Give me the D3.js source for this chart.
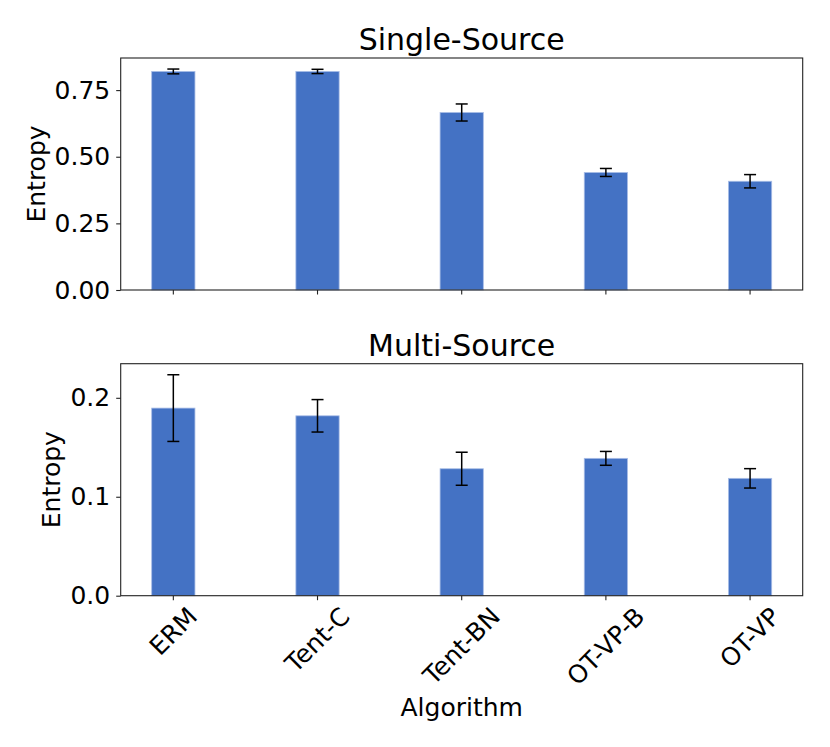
<!DOCTYPE html>
<html>
<head>
<meta charset="utf-8">
<script src="https://cdn.jsdelivr.net/npm/d3@7"></script>
<style>
  body { margin: 0; background: #fff; }
  text { font-family: "DejaVu Sans", sans-serif; fill: #000; }
</style>
</head>
<body>
<svg id="chart" width="830" height="747"></svg>
<script>
// data
var algorithms = ['ERM', 'Tent-C', 'Tent-BN', 'OT-VP-B', 'OT-VP'];
var singleMean = [0.820, 0.820, 0.666, 0.441, 0.408];
var singleErr  = [0.009, 0.008, 0.032, 0.015, 0.025];
var multiMean  = [0.1896, 0.1818, 0.1283, 0.1388, 0.1186];
var multiErr   = [0.0337, 0.0164, 0.0167, 0.0070, 0.0098];
var singleTicks = [0, 0.25, 0.5, 0.75];
var multiTicks  = [0, 0.1, 0.2];

var svg = d3.select('#chart');
var left = 120.7, right = 802.7;
var barColor = '#4472c4';
var fontSize = 25;

var x = d3.scaleBand()
  .domain(algorithms)
  .range([left, right])
  .paddingInner(0.7)
  .paddingOuter(0.215);

function panel(top, bottom, title, means, errs, ticks, fmt, showLabels) {
  var maxV = d3.max(means.map(function(m, i){ return m + errs[i]; }));
  var y = d3.scaleLinear().domain([0, maxV * 1.05]).range([bottom, top]);
  var g = svg.append('g');

  // bars
  g.selectAll('rect.bar')
    .data(algorithms)
    .enter().append('rect')
    .attr('class', 'bar')
    .attr('x', function(d){ return x(d); })
    .attr('width', x.bandwidth())
    .attr('y', function(d, i){ return y(means[i]); })
    .attr('height', function(d, i){ return bottom - y(means[i]); })
    .style('fill', barColor)
    .style('stroke', '#a9bde6')
    .style('stroke-width', 0.8);

  // error bars
  var eb = g.selectAll('g.err')
    .data(algorithms)
    .enter().append('g')
    .attr('class', 'err');
  eb.append('line')
    .attr('x1', function(d){ return x(d) + x.bandwidth() / 2; })
    .attr('x2', function(d){ return x(d) + x.bandwidth() / 2; })
    .attr('y1', function(d, i){ return y(means[i] - errs[i]); })
    .attr('y2', function(d, i){ return y(means[i] + errs[i]); });
  [1, -1].forEach(function(s){
    eb.append('line')
      .attr('x1', function(d){ return x(d) + x.bandwidth() / 2 - 6; })
      .attr('x2', function(d){ return x(d) + x.bandwidth() / 2 + 6; })
      .attr('y1', function(d, i){ return y(means[i] + s * errs[i]); })
      .attr('y2', function(d, i){ return y(means[i] + s * errs[i]); });
  });
  eb.selectAll('line').style('stroke', '#000').style('stroke-width', 1.5);

  // frame
  g.append('rect')
    .attr('x', left).attr('y', top)
    .attr('width', right - left).attr('height', bottom - top)
    .style('fill', 'none').style('stroke', '#222').style('stroke-width', 1.1);

  // y axis
  var yAxis = g.append('g')
    .attr('transform', 'translate(' + left + ',0)')
    .call(d3.axisLeft(y).tickValues(ticks).tickFormat(d3.format(fmt)).tickSize(4.5).tickPadding(6));
  yAxis.select('.domain').remove();
  yAxis.selectAll('line').style('stroke', '#222').style('stroke-width', 1.1);
  yAxis.selectAll('text').style('font-size', fontSize + 'px').style('font-family', '"DejaVu Sans", sans-serif');

  var maxW = 0;
  yAxis.selectAll('text').each(function(){ maxW = Math.max(maxW, this.getComputedTextLength()); });

  // x axis
  var xAxis = g.append('g')
    .attr('transform', 'translate(0,' + bottom + ')')
    .call(d3.axisBottom(x).tickSize(4.5).tickFormat(''));
  xAxis.select('.domain').remove();
  xAxis.selectAll('line').style('stroke', '#222').style('stroke-width', 1.1);
  xAxis.selectAll('text').remove();

  if (showLabels) {
    algorithms.forEach(function(a){
      var t = g.append('text')
        .text(a)
        .style('font-size', fontSize + 'px')
        .attr('text-anchor', 'middle')
        .attr('dominant-baseline', 'central');
      var w = t.node().getComputedTextLength();
      var h = fontSize * 0.95;
      var half = (w + h) / Math.SQRT2 / 2;
      var cx = x(a) + x.bandwidth() / 2;
      t.attr('transform', 'translate(' + cx + ',' + (bottom + 8 + half) + ') rotate(-45)');
    });
  }

  // title
  g.append('text')
    .attr('x', (left + right) / 2)
    .attr('y', top - 8)
    .attr('text-anchor', 'middle')
    .style('font-size', (fontSize * 1.2) + 'px')
    .text(title);

  // y label
  var lx = left - 4.5 - 6 - maxW - 6 - 4;
  g.append('text')
    .attr('transform', 'translate(' + lx + ',' + ((top + bottom) / 2) + ') rotate(-90)')
    .attr('text-anchor', 'middle')
    .style('font-size', fontSize + 'px')
    .text('Entropy');
}

panel(58, 290, 'Single-Source', singleMean, singleErr, singleTicks, '.2f', false);
panel(363.7, 595.7, 'Multi-Source', multiMean, multiErr, multiTicks, '.1f', true);

svg.append('text')
  .attr('x', (left + right) / 2)
  .attr('y', 716)
  .attr('text-anchor', 'middle')
  .style('font-size', fontSize + 'px')
  .text('Algorithm');
</script>
</body>
</html>
